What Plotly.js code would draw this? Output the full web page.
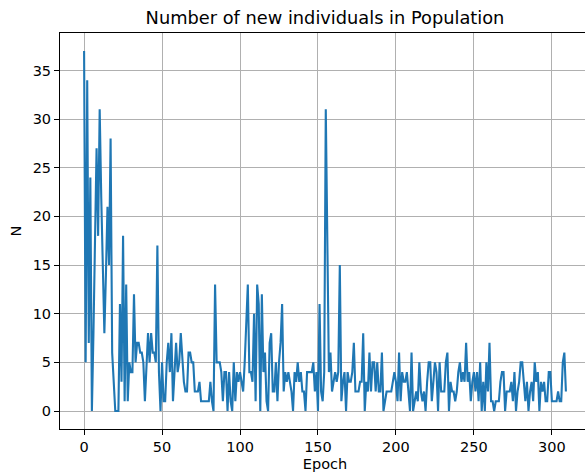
<!DOCTYPE html>
<html>
<head>
<meta charset="utf-8">
<script src="https://cdn.plot.ly/plotly-3.0.1.min.js"></script>
<style>html,body{margin:0;padding:0;background:#fff;overflow:hidden;width:585px;height:472px;}#chart{width:592px;height:472px;}</style>
</head>
<body>
<div id="chart"></div>
<script>
const titleText = "Number of new individuals in Population";
const xLabel = "Epoch";
const yLabel = "N";
const xTicks = [0, 50, 100, 150, 200, 250, 300];
const yTicks = [0, 5, 10, 15, 20, 25, 30, 35];
const newIndividuals = [
  37,5,34,7,24,0,8,20,27,18,
  31,22,14,8,14,21,15,28,6,3,
  0,0,0,11,3,18,1,13,1,5,
  4,4,12,5,7,7,6,6,5,1,
  4,8,5,8,6,6,5,17,4,0,
  5,1,1,5,7,4,8,1,4,7,
  4,5,8,5,3,2,2,6,6,5,
  5,2,2,2,3,1,1,1,1,1,
  1,3,1,0,13,5,5,5,4,1,
  4,4,0,4,1,0,5,1,4,3,
  4,3,2,5,9,13,4,4,3,10,
  1,13,11,0,12,4,6,1,0,7,
  8,2,2,5,1,5,7,11,2,4,
  3,4,3,2,0,4,3,5,3,4,
  2,2,0,4,4,4,4,5,2,4,
  0,11,2,1,4,31,14,4,6,2,
  3,4,3,4,15,1,3,4,0,4,
  3,3,4,7,2,2,2,3,3,8,
  0,3,2,6,2,5,5,2,5,2,
  2,6,0,1,2,2,2,2,3,4,
  3,1,6,1,4,3,3,4,2,0,
  6,0,1,2,1,5,2,1,2,0,
  3,5,5,1,3,5,4,0,5,2,
  2,2,5,6,0,3,2,2,1,2,
  4,5,3,4,3,7,3,4,1,3,
  4,2,4,1,5,0,3,0,5,2,
  7,1,1,0,1,1,1,3,4,4,
  0,2,2,2,3,1,4,0,2,3,
  5,5,3,1,3,0,2,3,1,5,
  3,4,0,3,2,3,1,1,4,4,
  1,1,1,1,2,1,1,5,6,2
];
const epochs = newIndividuals.map((_, i) => i);

const n = epochs.length - 1;
const xPad = n * 0.05;
const yMax = Math.max(...newIndividuals), yMin = Math.min(...newIndividuals);
const yPad = (yMax - yMin) * 0.05;

const font = {family: "DejaVu Sans, sans-serif", size: 14.5, color: "#000"};

const axisCommon = {
  showline: true, mirror: true, linecolor: "#000", linewidth: 1,
  showgrid: true, gridcolor: "#b0b0b0", gridwidth: 1,
  zeroline: false, ticks: "outside", ticklen: 5, tickwidth: 1, tickcolor: "#000",
  tickfont: font
};

Plotly.newPlot("chart", [{
  x: epochs, y: newIndividuals, type: "scatter", mode: "lines",
  line: {color: "#1f77b4", width: 2.1}
}], {
  width: 592, height: 472,
  margin: {l: 60, r: 2, t: 33, b: 43},
  paper_bgcolor: "#fff", plot_bgcolor: "#fff",
  showlegend: false,
  font: font,
  title: {text: titleText, font: {family: "DejaVu Sans, sans-serif", size: 17.8, color: "#000"},
          x: 0.5, xref: "paper", y: 1 - 18/472, yref: "container", yanchor: "middle"},
  xaxis: Object.assign({}, axisCommon, {
    range: [-xPad, n + xPad], tickvals: xTicks, ticktext: xTicks.map(String),
    title: {text: xLabel, font: font, standoff: 4}
  }),
  yaxis: Object.assign({}, axisCommon, {
    range: [yMin - yPad, yMax + yPad], tickvals: yTicks, ticktext: yTicks.map(String),
    title: {text: yLabel, font: font, standoff: 7}
  })
}, {staticPlot: true, displayModeBar: false});
</script>
</body>
</html>
